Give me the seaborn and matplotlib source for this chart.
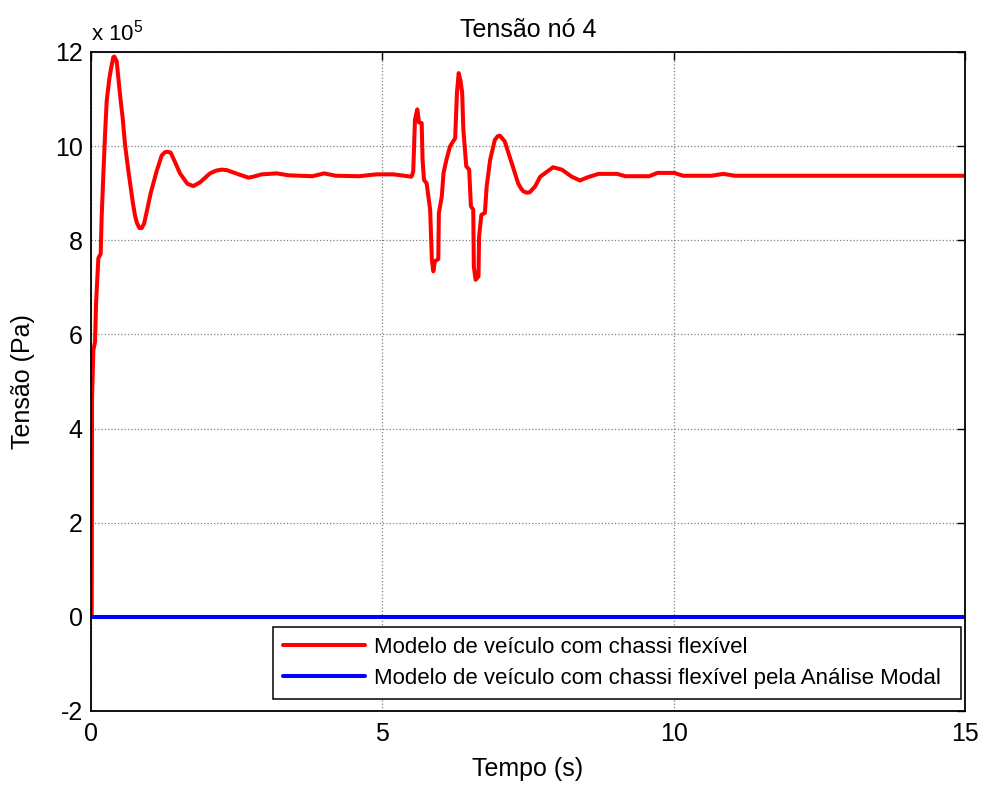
import numpy as np
import pandas as pd
import matplotlib
matplotlib.use("Agg")
import matplotlib.pyplot as plt
import seaborn as sns

# Tensão no nó 4 (valores em unidades de 1e5 Pa)
tempo = [0.0, 0.012, 0.017, 0.040, 0.069, 0.086, 0.126, 0.166, 0.183, 0.212,
         0.240, 0.269, 0.315, 0.338, 0.383, 0.400, 0.441, 0.469, 0.509, 0.543,
         0.583, 0.641, 0.669, 0.715, 0.755, 0.790, 0.830, 0.870, 0.910, 0.955,
         1.024, 1.127, 1.213, 1.270, 1.310, 1.367, 1.442, 1.527, 1.653, 1.756,
         1.871, 2.042, 2.150, 2.243, 2.328, 2.557, 2.700, 2.786, 2.929, 3.187,
         3.386, 3.587, 3.80, 4.00, 4.20, 4.60, 4.90, 5.19, 5.50, 5.53,
         5.56, 5.60, 5.63, 5.675, 5.69, 5.715, 5.76, 5.79, 5.82, 5.85,
         5.875, 5.90, 5.96, 5.97, 6.02, 6.05, 6.10, 6.16, 6.25, 6.28,
         6.31, 6.34, 6.37, 6.39, 6.44, 6.49, 6.52, 6.56, 6.57, 6.60,
         6.65, 6.66, 6.70, 6.76, 6.79, 6.85, 6.93, 6.98, 7.02, 7.10,
         7.22, 7.33, 7.38, 7.42, 7.48, 7.53, 7.62, 7.71, 7.93, 8.08,
         8.25, 8.39, 8.53, 8.71, 9.03, 9.17, 9.58, 9.72, 10.01, 10.16,
         10.65, 10.85, 11.05, 15.0]
tensao = [0.0, 0.0, 4.62, 5.67, 5.84, 6.65, 7.62, 7.71, 8.52, 9.41,
          10.23, 10.96, 11.44, 11.61, 11.89, 11.90, 11.80, 11.44, 10.96, 10.60,
          10.04, 9.47, 9.23, 8.82, 8.52, 8.36, 8.26, 8.26, 8.35, 8.60,
          9.00, 9.47, 9.80, 9.87, 9.88, 9.86, 9.66, 9.42, 9.20, 9.15,
          9.23, 9.42, 9.48, 9.50, 9.49, 9.39, 9.33, 9.35, 9.40, 9.42,
          9.38, 9.37, 9.36, 9.42, 9.37, 9.36, 9.40, 9.40, 9.35, 9.46,
          10.56, 10.78, 10.50, 10.49, 9.71, 9.28, 9.21, 8.93, 8.65, 7.58,
          7.34, 7.55, 7.60, 8.58, 8.93, 9.43, 9.71, 9.99, 10.17, 11.13,
          11.55, 11.40, 11.13, 10.35, 9.57, 9.50, 8.72, 8.65, 7.44, 7.16,
          7.23, 8.08, 8.54, 8.58, 9.14, 9.71, 10.13, 10.21, 10.22, 10.10,
          9.64, 9.21, 9.10, 9.04, 9.01, 9.02, 9.14, 9.35, 9.55, 9.50,
          9.35, 9.27, 9.34, 9.41, 9.41, 9.36, 9.36, 9.43, 9.43, 9.37,
          9.37, 9.41, 9.37, 9.37]

tempo_modal = [0.0, 15.0]
tensao_modal = [0.0, 0.0]

rotulos = ["Modelo de veículo com chassi flexível",
           "Modelo de veículo com chassi flexível pela Análise Modal"]
xticks = [0, 5, 10, 15]
yticks = [-2, 0, 2, 4, 6, 8, 10, 12]

sns.set_theme(style="white")
plt.rcParams["font.family"] = ["Liberation Sans", "DejaVu Sans"]
plt.rcParams["mathtext.default"] = "regular"
plt.rcParams["axes.unicode_minus"] = False
plt.rcParams["text.color"] = "black"
plt.rcParams["axes.labelcolor"] = "black"
plt.rcParams["xtick.color"] = "black"
plt.rcParams["ytick.color"] = "black"

fig = plt.figure(figsize=(9.83, 7.87), dpi=100)
ax = fig.add_axes([0.0926, 0.0966, 0.8891, 0.8374])

df_flex = pd.DataFrame({"t": tempo, "s": tensao})
df_modal = pd.DataFrame({"t": tempo_modal, "s": tensao_modal})
sns.lineplot(data=df_flex, x="t", y="s", ax=ax, color="#ff0000", linewidth=2.9,
             sort=False, estimator=None, label=rotulos[0])
sns.lineplot(data=df_modal, x="t", y="s", ax=ax, color="#0000ff", linewidth=2.9,
             sort=False, estimator=None, label=rotulos[1])

ax.set_xlim(0, 15)
ax.set_ylim(-2, 12)
ax.set_xticks(xticks)
ax.set_yticks(yticks)
ax.grid(True, linestyle=":", color="#808080", linewidth=0.9)
for sp in ax.spines.values():
    sp.set_color("black")
    sp.set_linewidth(1.3)
ax.tick_params(direction="in", length=6, width=1, color="black",
               top=True, right=True, labelsize=18, labelcolor="black")
ax.tick_params(axis="x", pad=8)
ax.tick_params(axis="y", pad=6)

ax.set_title("Tensão nó 4", fontsize=18, pad=11, color="black")
ax.set_xlabel("Tempo (s)", fontsize=18, labelpad=8)
ax.set_ylabel("Tensão (Pa)", fontsize=18, labelpad=14)

ax.annotate(r"x 10$^{5}$", xy=(0, 1), xycoords="axes fraction",
            xytext=(0, 8), textcoords="offset points",
            ha="left", va="baseline", fontsize=16, color="black")

leg = ax.legend(loc="lower left", bbox_to_anchor=(0.2082, 0.0182, 0.787, 0.112),
                mode="expand", borderaxespad=0, fontsize=16, frameon=True,
                fancybox=False, edgecolor="black", framealpha=1,
                handlelength=3.7, handletextpad=0.4, labelspacing=0.45,
                borderpad=0.45)
leg.get_frame().set_linewidth(1.1)
for txt in leg.get_texts():
    txt.set_color("black")

fig.savefig("out.png", dpi=100)
